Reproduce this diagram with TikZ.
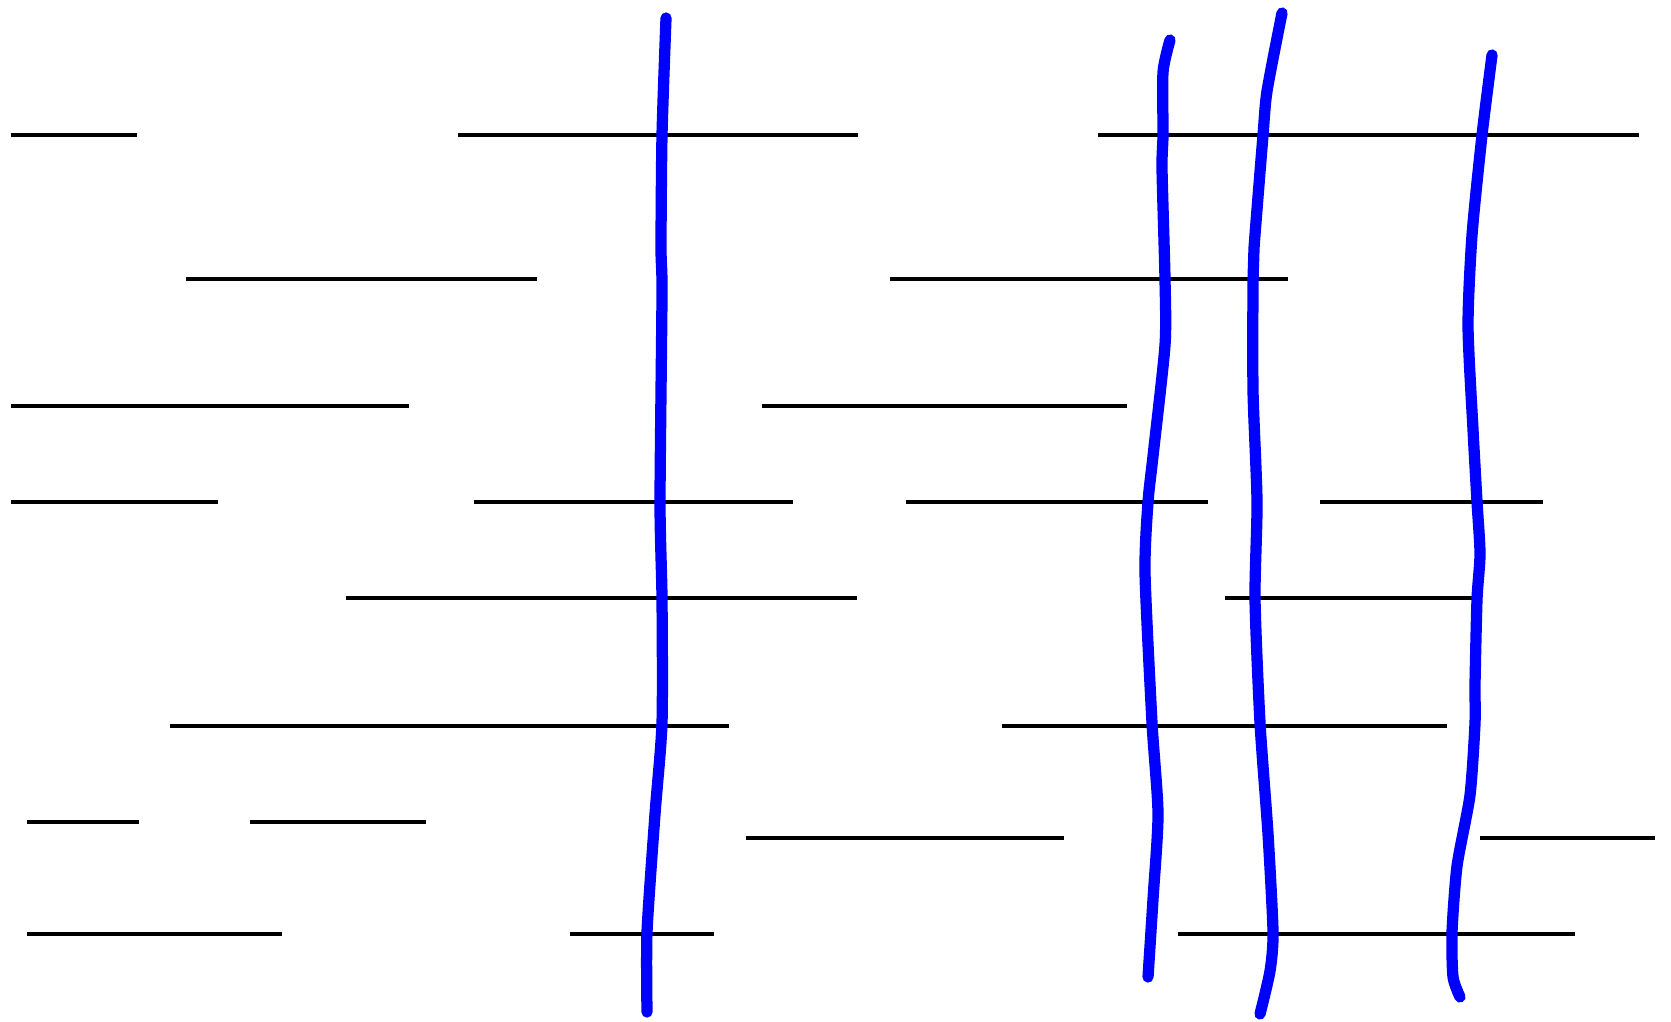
\documentclass[tikz,border=0pt]{standalone}
\usepackage{tikz}

\begin{document}
\begin{tikzpicture}[x=.01cm,y=-.01cm,
    seg/.style={line width=1.4pt,black},
    cut/.style={line width=3.2pt,blue,line cap=round,line join=round}]
  \useasboundingbox (0,0) rectangle (1671,1021);
  % horizontal segments, row by row
  \draw[seg] (11,135)--(137,135);   \draw[seg] (458,135)--(858,135);  \draw[seg] (1098,135)--(1639,135);
  \draw[seg] (186,279)--(537,279);  \draw[seg] (890,279)--(1288,279);
  \draw[seg] (11,406)--(409,406);   \draw[seg] (762,406)--(1127,406);
  \draw[seg] (11,502)--(218,502);   \draw[seg] (474,502)--(793,502);  \draw[seg] (906,502)--(1208,502);
  \draw[seg] (1320,502)--(1543,502);
  \draw[seg] (346,598)--(857,598);  \draw[seg] (1225,598)--(1474,598);
  \draw[seg] (170,726)--(729,726);  \draw[seg] (1002,726)--(1447,726);
  \draw[seg] (27,822)--(139,822);   \draw[seg] (250,822)--(426,822);
  \draw[seg] (746,838)--(1064,838); \draw[seg] (1480,838)--(1655,838);
  \draw[seg] (27,934)--(282,934);   \draw[seg] (570,934)--(714,934);  \draw[seg] (1178,934)--(1575,934);
  % hand-drawn blue cuts
  \draw[cut] plot[smooth,tension=.4] coordinates {(666,18) (662,135) (661,248) (662,293) (660,502)
    (662,599) (662,723) (655,814) (647,932) (647,1012)};
  \draw[cut] plot[smooth,tension=.4] coordinates {(1170,40) (1163,72) (1163,135) (1162,169) (1165,280)
    (1165,345) (1153,456) (1148,502) (1145,573) (1152,723) (1158,814) (1153,899) (1148,977)};
  \draw[cut] plot[smooth,tension=.4] coordinates {(1282,13) (1267,91) (1263,135) (1254,248) (1253,280)
    (1253,391) (1257,502) (1255,599) (1260,723) (1268,834) (1273,932) (1270,971) (1260,1014)};
  \draw[cut] plot[smooth,tension=.4] coordinates {(1492,55) (1482,135) (1472,235) (1468,326) (1473,430)
    (1477,502) (1480,554) (1477,599) (1475,684) (1475,723) (1470,795) (1457,866) (1452,932)
    (1453,977) (1460,997)};
\end{tikzpicture}
\end{document}
